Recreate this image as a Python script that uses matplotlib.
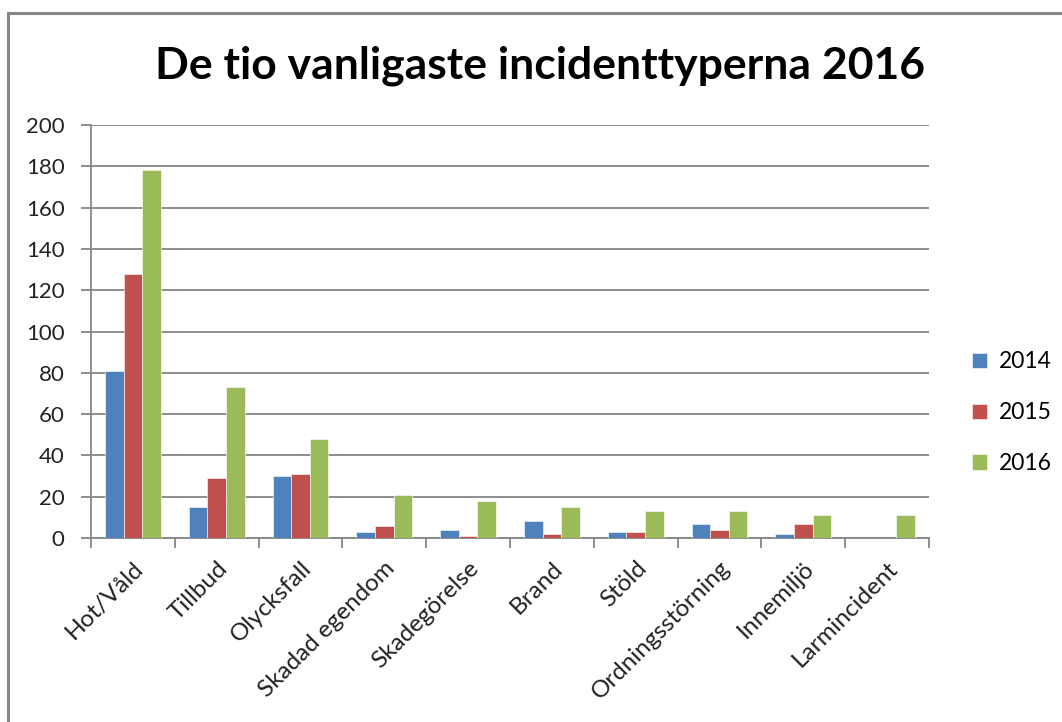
import matplotlib
matplotlib.use("Agg")
import matplotlib.pyplot as plt
import numpy as np
from matplotlib.patches import Rectangle

categories = ["Hot/Våld", "Tillbud", "Olycksfall", "Skadad egendom", "Skadegörelse",
              "Brand", "Stöld", "Ordningsstörning", "Innemiljö", "Larmincident"]
years = ["2014", "2015", "2016"]
v2014 = [81, 15, 30, 3, 4, 8, 3, 7, 2, 0]
v2015 = [128, 29, 31, 6, 1, 2, 3, 4, 7, 0]
v2016 = [178, 73, 48, 21, 18, 15, 13, 13, 11, 11]
colors = ["#4F81BD", "#C0504D", "#9BBB59"]
yticks = [0, 20, 40, 60, 80, 100, 120, 140, 160, 180, 200]

plt.rcParams['font.family'] = ['Lato', 'DejaVu Sans']

fig = plt.figure(figsize=(10.62, 7.22), dpi=100)
fig.patches.append(Rectangle((8/1062, -0.1), 1.2, 1 - 13/722 + 0.1, transform=fig.transFigure,
                             fill=False, edgecolor="#878787", linewidth=2.2))

ax = fig.add_axes([91/1062, 1 - 538/722, (929 - 91)/1062, (538 - 125)/722])
x = np.arange(len(categories))
w = 0.222
for i, (vals, c, lab) in enumerate(zip([v2014, v2015, v2016], colors, years)):
    ax.bar(x + (i - 1) * w, vals, width=w, color=c, edgecolor="#FFFFFF", linewidth=0.4,
           label=lab, zorder=3)

ax.set_xlim(-0.5, len(categories) - 0.5)
ax.set_ylim(0, 200)
ax.set_yticks(yticks)
ax.set_yticklabels([str(t) for t in yticks], fontsize=16, color="#222222")
ax.yaxis.grid(True, color="#868686", linewidth=1.3, zorder=0)
ax.set_axisbelow(True)
ax.tick_params(axis='y', length=7, width=1.3, color="#868686", pad=12, direction='out')

ax.set_xticks(x)
ax.set_xticklabels(categories, rotation=45, ha='right', va='top', rotation_mode='anchor',
                   fontsize=17.5, color="#222222")
ax.tick_params(axis='x', length=0, pad=14)
ax.set_xticks(np.arange(-0.5, len(categories) + 0.5, 1), minor=True)
ax.tick_params(axis='x', which='minor', length=7, width=1.3, color="#868686", direction='out')

for s in ['top', 'right']:
    ax.spines[s].set_visible(False)
ax.spines['left'].set_color("#868686")
ax.spines['left'].set_linewidth(1.3)
ax.spines['bottom'].set_color("#868686")
ax.spines['bottom'].set_linewidth(1.3)

fig.text(540/1062, 1 - 66/722, "De tio vanligaste incidenttyperna 2016", ha='center', va='center',
         fontsize=32, fontweight='bold', color="#000000")

leg = ax.legend(loc='upper left', bbox_to_anchor=(961/1062, 1 - 340/722),
                bbox_transform=fig.transFigure, frameon=False, fontsize=16.5,
                handlelength=0.65, handleheight=0.65, handletextpad=0.5, labelspacing=1.3,
                borderpad=0)

fig.savefig("out.png", dpi=100, facecolor="white")
